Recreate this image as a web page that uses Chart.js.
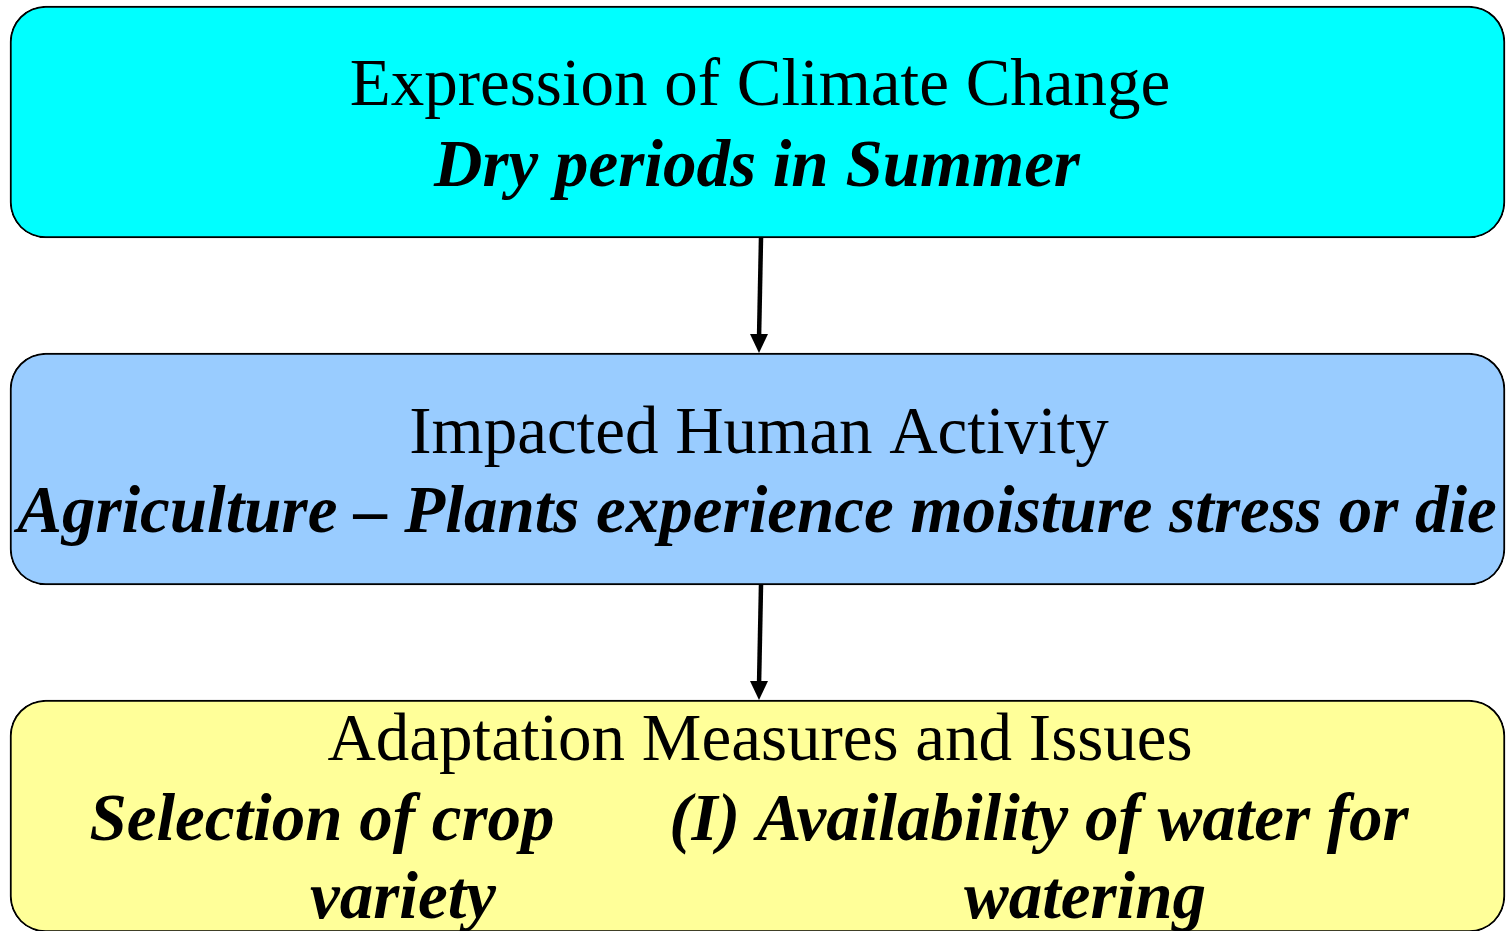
<!DOCTYPE html>
<html>
<head>
<meta charset="utf-8">
<script src="https://cdn.jsdelivr.net/npm/chart.js@4"></script>
<style>
  html, body { margin: 0; padding: 0; background: #fff; }
  #wrap { width: 1506px; height: 931px; }
</style>
</head>
<body>
<div id="wrap"><canvas id="flowChart"></canvas></div>
<script>
// boxes of the flow, top to bottom
const stages = [1, 2, 3];
const boxSpans = [[10, 1505], [10, 1505], [10, 1505]];
const boxColors = ["#00FFFF", "#99CCFF", "#FFFF99"];
const titles = [
  "Expression of Climate Change",
  "Impacted Human Activity",
  "Adaptation Measures and Issues",
];
const details = [
  ["Dry periods in Summer"],
  ["Agriculture \u2013 Plants experience moisture stress or die"],
  ["Selection of crop", "variety", "(I) Availability of water for", "watering"],
];

// where the text goes inside each box (x in axis units, dy in px from box top)
const titleLayout = [
  { x: 760, dy: 99 },
  { x: 759, dy: 100 },
  { x: 760, dy: 60 },
];
const detailLayout = [
  [{ x: 757, dy: 180 }],
  [{ x: 757, dy: 179 }],
  [{ x: 322, dy: 140 }, { x: 403, dy: 218 }, { x: 1039, dy: 140 }, { x: 1085, dy: 218 }],
];

const textPlugin = {
  id: "boxText",
  afterDatasetsDraw(chart) {
    const { ctx, scales: { x } } = chart;
    const bars = chart.getDatasetMeta(0).data;
    ctx.save();
    ctx.fillStyle = "#000";
    ctx.textAlign = "center";
    ctx.textBaseline = "alphabetic";
    bars.forEach((bar, i) => {
      const top = bar.y - bar.height / 2;
      ctx.font = '67px "Liberation Serif", "Times New Roman", serif';
      ctx.fillText(titles[i], x.getPixelForValue(titleLayout[i].x), top + titleLayout[i].dy);
      ctx.font = 'italic bold 67px "Liberation Serif", "Times New Roman", serif';
      details[i].forEach((t, j) => {
        const p = detailLayout[i][j];
        ctx.fillText(t, x.getPixelForValue(p.x), top + p.dy);
      });
    });
    ctx.restore();
  },
};

const arrowPlugin = {
  id: "arrows",
  afterDatasetsDraw(chart) {
    const { ctx, scales: { x } } = chart;
    const bars = chart.getDatasetMeta(0).data;
    ctx.save();
    ctx.strokeStyle = "#000";
    ctx.fillStyle = "#000";
    ctx.lineWidth = 4.5;
    for (let i = 0; i < bars.length - 1; i++) {
      const y0 = bars[i].y + bars[i].height / 2;
      const y1 = bars[i + 1].y - bars[i + 1].height / 2;
      const x0 = x.getPixelForValue(761), x1 = x.getPixelForValue(759);
      ctx.beginPath();
      ctx.moveTo(x0, y0);
      ctx.lineTo(x1, y1 - 14);
      ctx.stroke();
      ctx.beginPath();
      ctx.moveTo(x1, y1);
      ctx.lineTo(x1 - 9, y1 - 19);
      ctx.lineTo(x1 + 9, y1 - 19);
      ctx.closePath();
      ctx.fill();
    }
    ctx.restore();
  },
};

new Chart(document.getElementById("flowChart"), {
  type: "bar",
  data: {
    datasets: [{
      data: stages.map((s, i) => ({ x: boxSpans[i], y: s })),
      backgroundColor: boxColors,
      borderColor: "#000",
      borderWidth: 2,
      borderSkipped: false,
      borderRadius: 36,
      barThickness: 232,
    }],
  },
  options: {
    indexAxis: "y",
    responsive: true,
    maintainAspectRatio: false,
    animation: false,
    events: [],
    layout: { padding: 0 },
    scales: {
      x: { type: "linear", min: 0, max: 1506, display: false },
      y: { type: "linear", min: 0.6484, max: 3.3314, reverse: true, offset: false, display: false },
    },
    plugins: { legend: { display: false }, tooltip: { enabled: false } },
  },
  plugins: [textPlugin, arrowPlugin],
});
</script>
</body>
</html>
